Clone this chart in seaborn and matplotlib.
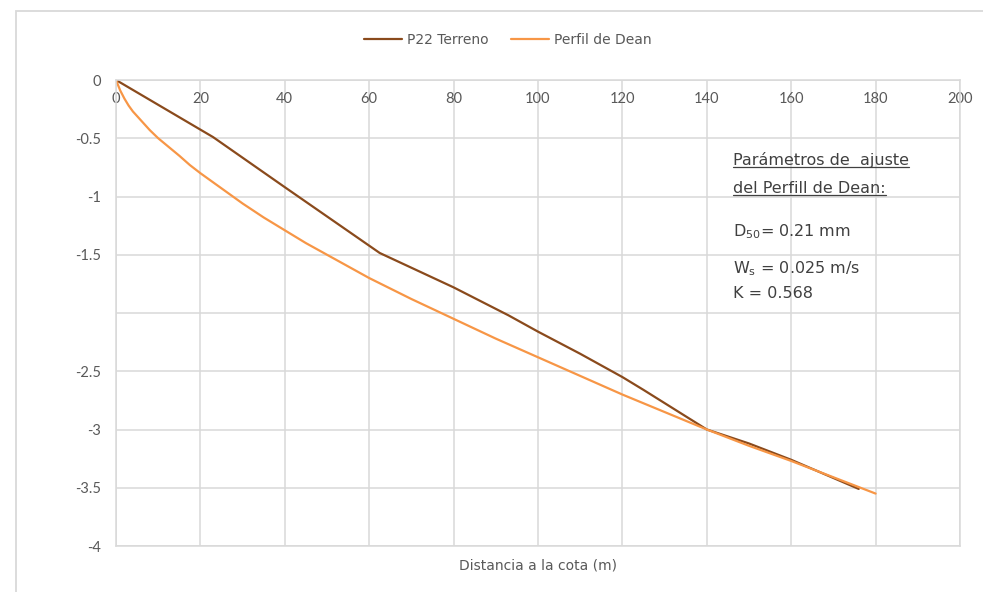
import numpy as np
import pandas as pd
import matplotlib
matplotlib.use("Agg")
import matplotlib.pyplot as plt
from matplotlib.patches import Rectangle
from matplotlib.lines import Line2D
import seaborn as sns

# Terrain profile P22 (distance, elevation)
terreno_x = [0, 23, 40, 62.5, 80, 93, 100, 110, 120, 125, 140, 150, 160, 176]
terreno_y = [0, -0.49, -0.92, -1.485, -1.78, -2.02, -2.16, -2.35, -2.55, -2.66, -3.0, -3.12, -3.26, -3.51]

# Fitted Dean profile
dean_x = [0, 1, 2, 3, 4, 5, 6.5, 8, 10, 12, 15, 17.5, 20, 25, 30, 35, 40, 45, 50, 55, 60, 65, 70,
          80, 90, 100, 110, 120, 130, 140, 150, 160, 170, 180]
dean_y = [0, -0.09, -0.16, -0.22, -0.27, -0.31, -0.37, -0.43, -0.50, -0.56, -0.65, -0.73, -0.80,
          -0.93, -1.06, -1.18, -1.29, -1.40, -1.50, -1.60, -1.70, -1.79, -1.88,
          -2.05, -2.22, -2.38, -2.54, -2.70, -2.85, -3.00, -3.14, -3.27, -3.41, -3.55]

x_ticks = [0, 20, 40, 60, 80, 100, 120, 140, 160, 180, 200]
y_ticks = [0, -0.5, -1, -1.5, -2, -2.5, -3, -3.5, -4]
y_tick_labels = ['0', '-0.5', '-1', '-1.5', '', '-2.5', '-3', '-3.5', '-4']

params_title = ["Parámetros de  ajuste", "del Perfill de Dean:"]
params_lines = [r"D$_\mathrm{50}$= 0.21 mm", r"W$_\mathrm{s}$ = 0.025 m/s", "K = 0.568"]

sns.set_style("white")
plt.rcParams['font.family'] = ['DejaVu Sans']
plt.rcParams['mathtext.fontset'] = 'dejavusans'

grid_c = '#D9D9D9'
text_c = '#595959'
brown = '#8A4A1C'
orange = '#F79646'

fig = plt.figure(figsize=(9.83, 5.92), dpi=100)
ax = fig.add_axes([116 / 983, 1 - 546 / 592, (960 - 116) / 983, (546 - 80) / 592])

# chart outer border
fig.patches.append(Rectangle((16 / 983, -0.1), 1.2, 1.1 - 11 / 592, transform=fig.transFigure,
                             fill=False, edgecolor=grid_c, linewidth=1.3))

sns.lineplot(x=terreno_x, y=terreno_y, ax=ax, sort=False, color=brown, linewidth=1.6, label="P22 Terreno")
sns.lineplot(x=dean_x, y=dean_y, ax=ax, sort=False, color=orange, linewidth=1.6, label="Perfil de Dean")

ax.set_xlim(0, 200)
ax.set_ylim(-4, 0)
ax.set_xticks(x_ticks)
ax.set_yticks(y_ticks)
ax.set_yticklabels(y_tick_labels)
ax.grid(True, color=grid_c, linewidth=1.1)
for s in ax.spines.values():
    s.set_color(grid_c)
    s.set_linewidth(1.1)

ax.xaxis.tick_top()
ax.tick_params(axis='x', length=0, pad=-19, labelsize=10.5, labelcolor=text_c)
ax.tick_params(axis='y', length=0, pad=11, labelsize=10.5, labelcolor=text_c)
for lab in ax.get_xticklabels() + ax.get_yticklabels():
    lab.set_family('Lato')
ax.set_xlabel("Distancia a la cota (m)", fontsize=10, color=text_c, labelpad=9)
ax.xaxis.set_label_position('bottom')
ax.set_ylabel("")

handles, labels = ax.get_legend_handles_labels()
ax.get_legend().remove()
fig.legend(handles, labels, loc='center', bbox_to_anchor=(508 / 983, 1 - 40 / 592), ncol=2,
           frameon=False, fontsize=10, labelcolor=text_c, handlelength=2.7, columnspacing=1.6,
           handletextpad=0.4)

# fit parameters box
fs = 11.5
t1 = ax.text(146.2, -0.687, params_title[0], fontsize=fs, color='#404040', va='center', ha='left')
t2 = ax.text(146.2, -0.93, params_title[1], fontsize=fs, color='#404040', va='center', ha='left')
ax.text(146.2, -1.30, params_lines[0], fontsize=fs, color='#404040', va='center', ha='left')
ax.text(146.2, -1.62, params_lines[1], fontsize=fs, color='#404040', va='center', ha='left')
ax.text(146.2, -1.83, params_lines[2], fontsize=fs, color='#404040', va='center', ha='left')

# underline the title lines
fig.canvas.draw()
for t in (t1, t2):
    bb = t.get_window_extent()
    yline = bb.y0 + 1
    fig.add_artist(Line2D([bb.x0 / fig.bbox.width, bb.x1 / fig.bbox.width],
                          [yline / fig.bbox.height, yline / fig.bbox.height],
                          transform=fig.transFigure, color='#404040', linewidth=0.9))

fig.savefig("out.png", dpi=100)
